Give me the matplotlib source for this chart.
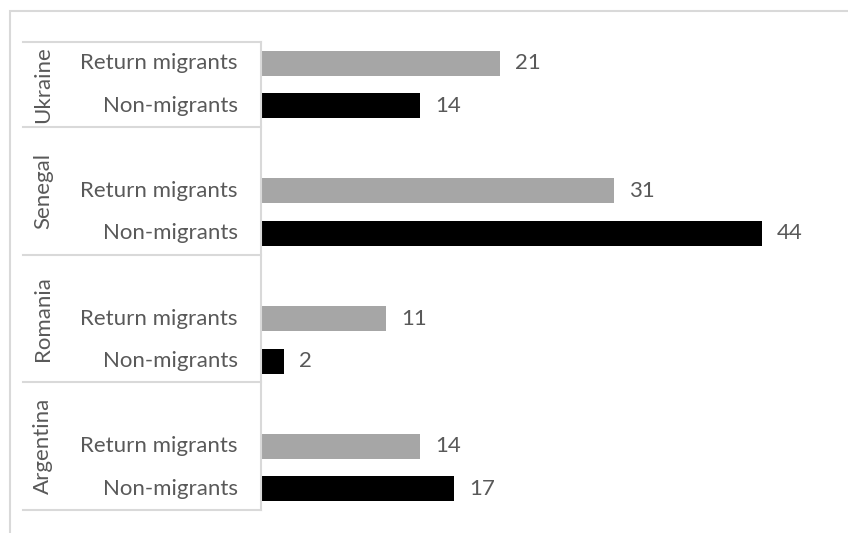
import matplotlib.pyplot as plt
from matplotlib.patches import Rectangle

# data, listed bottom to top as Excel draws it
countries = ["Argentina", "Romania", "Senegal", "Ukraine"]
groups = ["Non-migrants", "Return migrants"]
non_migrants = [17, 2, 44, 14]
return_migrants = [14, 11, 31, 21]

grey = "#a6a6a6"
text_col = "#595959"
line_col = "#d9d9d9"
font = "Lato"
fs = 16

fig = plt.figure(figsize=(8.48, 5.33), dpi=100)
W, H = 848, 533

# outer chart border (cropped on the right and bottom)
fig.patches.append(Rectangle((10 / W, -0.1), 1.2, 1 - 11 / H + 0.1,
                             transform=fig.transFigure, fill=False,
                             edgecolor=line_col, linewidth=1.5))

x0, x1 = 261, 830
ax = fig.add_axes([x0 / W, 1 - 510 / H, (x1 - x0) / W, (510 - 42) / H])

# each country takes three slots: non-migrants, return migrants, blank
pos_nm = [3 * i for i in range(len(countries))]
pos_rm = [3 * i + 1 for i in range(len(countries))]
bh = 0.59

ax.barh(pos_rm, return_migrants, height=bh, color=grey)
ax.barh(pos_nm, non_migrants, height=bh, color="black")

for p, v in zip(pos_rm + pos_nm, return_migrants + non_migrants):
    ax.annotate(str(v), (v, p), xytext=(15 * 0.72, 0), textcoords="offset points",
                ha="left", va="center", color=text_col, fontsize=fs, family=font)

ax.set_xlim(0, 50)
ax.set_ylim(-0.5, 3 * len(countries) - 1.5)
ax.set_xticks([])
ax.set_yticks([])
for s in ["top", "right", "bottom"]:
    ax.spines[s].set_visible(False)
ax.spines["left"].set_color(line_col)
ax.spines["left"].set_linewidth(1.5)

# multi-level category axis
tr = ax.get_yaxis_transform()
left = (23 - x0) / (x1 - x0)
sub_x = (238 - x0) / (x1 - x0)
cty_x = (43 - x0) / (x1 - x0)
top = 3 * len(countries) - 1.5
bounds = [-0.5] + [3 * i + 2.5 for i in range(len(countries) - 1)] + [top]
for b in bounds:
    ax.plot([left, 0], [b, b], transform=tr, color=line_col, lw=1.5, clip_on=False)

for i, c in enumerate(countries):
    ax.text(sub_x, pos_nm[i], groups[0], transform=tr, ha="right", va="center",
            color=text_col, fontsize=fs, family=font)
    ax.text(sub_x, pos_rm[i], groups[1], transform=tr, ha="right", va="center",
            color=text_col, fontsize=fs, family=font)
    mid = (bounds[i] + bounds[i + 1]) / 2
    ax.text(cty_x, mid, c, transform=tr, ha="center", va="center", rotation=90,
            color=text_col, fontsize=fs, family=font)

fig.savefig("out.png", dpi=100)
